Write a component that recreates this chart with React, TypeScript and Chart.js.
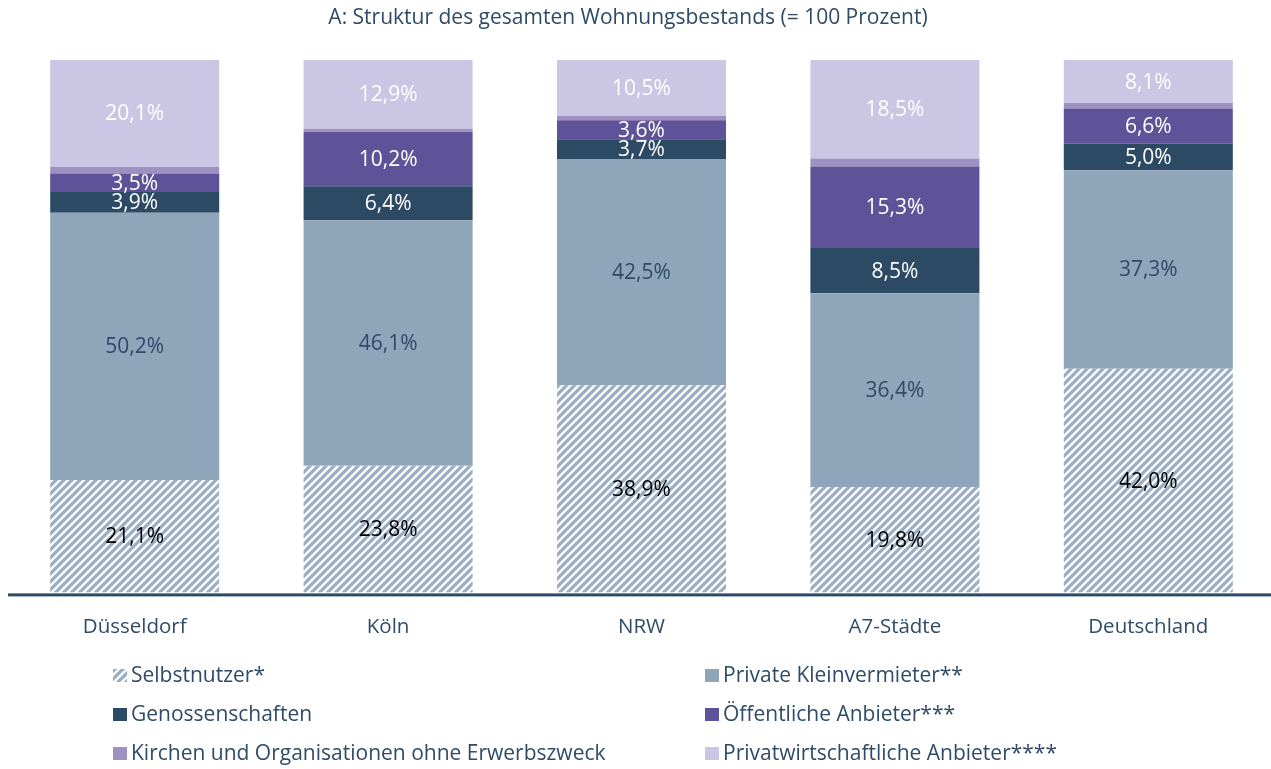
import React, { useEffect, useRef } from "react";
import { Chart, registerables } from "chart.js";

Chart.register(...registerables);

const categories = ["Düsseldorf", "Köln", "NRW", "A7-Städte", "Deutschland"];
const selbstnutzer = [21.1, 23.8, 38.9, 19.8, 42.0];
const privateKleinvermieter = [50.2, 46.1, 42.5, 36.4, 37.3];
const genossenschaften = [3.9, 6.4, 3.7, 8.5, 5.0];
const oeffentliche = [3.5, 10.2, 3.6, 15.3, 6.6];
const kirchen = [1.2, 0.6, 0.8, 1.5, 1.0];
const privatwirtschaftliche = [20.1, 12.9, 10.5, 18.5, 8.1];

const seriesNames = [
  "Selbstnutzer*",
  "Private Kleinvermieter**",
  "Genossenschaften",
  "Öffentliche Anbieter***",
  "Kirchen und Organisationen ohne Erwerbszweck",
  "Privatwirtschaftliche Anbieter****",
];

const TITLE = "A: Struktur des gesamten Wohnungsbestands (= 100 Prozent)";
const TEXT = "#2F4B68";
const FONT = "'Open Sans', Lato, sans-serif";

function makeHatch(): CanvasPattern | string {
  const c = document.createElement("canvas");
  const s = 8;
  c.width = s;
  c.height = s;
  const g = c.getContext("2d");
  if (!g) return "#98AEC6";
  g.fillStyle = "#ffffff";
  g.fillRect(0, 0, s, s);
  g.strokeStyle = "#98AEC6";
  g.lineWidth = 3.2;
  g.lineCap = "square";
  g.beginPath();
  g.moveTo(-2, s + 2);
  g.lineTo(s + 2, -2);
  g.moveTo(-2, 2);
  g.lineTo(2, -2);
  g.moveTo(s - 2, s + 2);
  g.lineTo(s + 2, s - 2);
  g.stroke();
  const p = g.createPattern(c, "repeat");
  return p || "#98AEC6";
}

export default function App() {
  const ref = useRef<HTMLCanvasElement | null>(null);

  useEffect(() => {
    const canvas = ref.current;
    if (!canvas) return;
    const hatch = makeHatch();
    const colors: any[] = [hatch, "#8FA5BA", "#2C4A64", "#5E5398", "#9E91C1", "#CBC6E3"];
    const labelColors = ["#000000", TEXT, "#ffffff", "#ffffff", null, "#ffffff"];
    const values = [selbstnutzer, privateKleinvermieter, genossenschaften, oeffentliche, kirchen, privatwirtschaftliche];

    const decor = {
      id: "decor",
      afterDatasetsDraw(chart: any) {
        const ctx = chart.ctx;
        ctx.save();
        // value labels
        ctx.font = `21px ${FONT}`;
        ctx.textAlign = "center";
        ctx.textBaseline = "middle";
        chart.data.datasets.forEach((ds: any, di: number) => {
          const col = labelColors[di];
          if (!col) return;
          const meta = chart.getDatasetMeta(di);
          meta.data.forEach((el: any, i: number) => {
            const { x, y, base } = el.getProps(["x", "y", "base"], true);
            const v = ds.data[i] as number;
            ctx.fillStyle = col;
            ctx.fillText(v.toFixed(1).replace(".", ",") + "%", x, (y + base) / 2 + 1);
          });
        });
        // axis line
        const yb = chart.scales.y.getPixelForValue(0);
        ctx.fillStyle = "#2C4A64";
        ctx.fillRect(8, yb + 1, 1263, 3);
        // title
        ctx.fillStyle = TEXT;
        ctx.font = `21px ${FONT}`;
        ctx.fillText(TITLE, 628, 18);
        // legend
        ctx.font = `21px ${FONT}`;
        ctx.textAlign = "left";
        const colX = [113, 705];
        const rowY = [676, 715, 754];
        seriesNames.forEach((name, i) => {
          const cx = colX[i % 2];
          const cy = rowY[Math.floor(i / 2)];
          ctx.fillStyle = colors[i];
          ctx.fillRect(cx, cy - 7, 14, 13);
          ctx.fillStyle = TEXT;
          ctx.fillText(name, cx + 18, cy);
        });
        ctx.restore();
      },
    };

    const chart = new Chart(canvas, {
      type: "bar",
      data: {
        labels: categories,
        datasets: values.map((d, i) => ({
          label: seriesNames[i],
          data: d,
          backgroundColor: colors[i],
          borderWidth: 0,
          barPercentage: 0.667,
          categoryPercentage: 1,
        })),
      },
      options: {
        responsive: false,
        animation: false,
        devicePixelRatio: 1,
        layout: { padding: { left: 8, right: 5, top: 60, bottom: 116 } },
        plugins: {
          legend: { display: false },
          title: { display: false },
          tooltip: { enabled: false },
        },
        scales: {
          x: {
            stacked: true,
            grid: { display: false },
            border: { display: false },
            ticks: { color: TEXT, font: { family: FONT, size: 20.5 }, padding: 14 },
          },
          y: {
            stacked: true,
            display: false,
            min: 0,
            max: 100,
          },
        },
      },
      plugins: [decor],
    });
    return () => chart.destroy();
  }, []);

  return (
    <div style={{ position: "fixed", left: 0, top: 0, width: 1271, height: 769, overflow: "hidden", background: "#fff" }}>
      <canvas ref={ref} width={1280} height={769} style={{ width: 1280, height: 769, display: "block" }} />
    </div>
  );
}
